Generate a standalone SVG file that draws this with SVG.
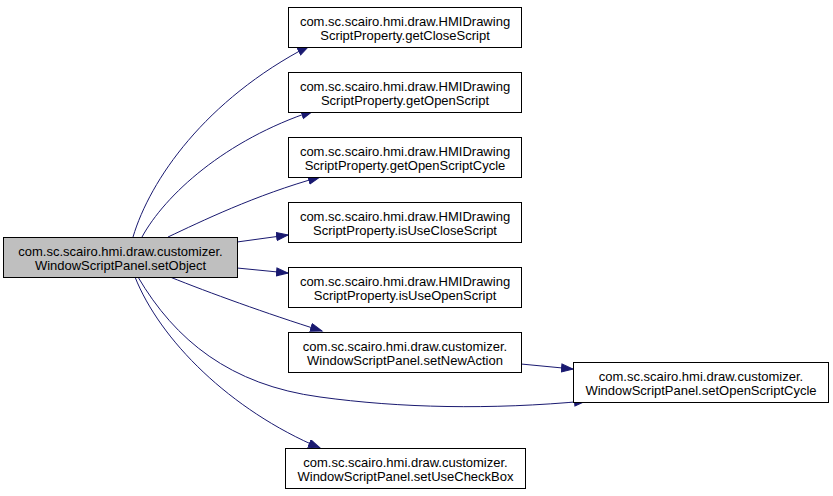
<svg xmlns="http://www.w3.org/2000/svg" width="833" height="496" viewBox="0 0 833 496">
<style>
.n rect{fill:#ffffff;stroke:#000000;stroke-width:1}
.n.cur rect{fill:#bfbfbf}
.n text{font-family:"Liberation Sans",Arial,sans-serif;font-size:13px;fill:#000000;text-anchor:middle}
.e path{fill:none;stroke:#191970;stroke-width:1;marker-end:url(#ah)}
</style>
<defs>
<marker id="ah" markerUnits="userSpaceOnUse" markerWidth="14" markerHeight="10" refX="12" refY="4.5" orient="auto">
<path d="M0.5,0.5 L12,4.5 L0.5,8.5 z" fill="#191970" stroke="#191970" stroke-width="1"/>
</marker>
</defs>
<rect width="833" height="496" fill="#ffffff"/>
<g id="edges" class="e">
<path d="M133,237 C150,180 205,100 309,46"/>
<path d="M142,237 C165,195 225,140 313,111"/>
<path d="M168,237 C200,222 255,195 320,177"/>
<path d="M237,242 L288,235"/>
<path d="M237,268 L288,273"/>
<path d="M170,277 C210,293 265,313 322,331"/>
<path d="M138,277 C175,340 230,385 320,397 C400,408 490,410 586,401"/>
<path d="M135,277 C160,340 230,410 320,448"/>
<path d="M521,364 L573,369"/>
</g>
<g id="setObject" class="n cur">
<rect x="3.5" y="237.5" width="234" height="40"/>
<text x="120.5" y="255.5">com.sc.scairo.hmi.draw.customizer.</text>
<text x="120.5" y="269.5">WindowScriptPanel.setObject</text>
</g>
<g id="getCloseScript" class="n">
<rect x="288.5" y="7.5" width="233" height="40"/>
<text x="405" y="25.5">com.sc.scairo.hmi.draw.HMIDrawing</text>
<text x="405" y="39.5">ScriptProperty.getCloseScript</text>
</g>
<g id="getOpenScript" class="n">
<rect x="288.5" y="72.5" width="233" height="40"/>
<text x="405" y="90.5">com.sc.scairo.hmi.draw.HMIDrawing</text>
<text x="405" y="104.5">ScriptProperty.getOpenScript</text>
</g>
<g id="getOpenScriptCycle" class="n">
<rect x="288.5" y="137.5" width="233" height="40"/>
<text x="405" y="155.5">com.sc.scairo.hmi.draw.HMIDrawing</text>
<text x="405" y="169.5">ScriptProperty.getOpenScriptCycle</text>
</g>
<g id="isUseCloseScript" class="n">
<rect x="288.5" y="202.5" width="233" height="40"/>
<text x="405" y="220.5">com.sc.scairo.hmi.draw.HMIDrawing</text>
<text x="405" y="234.5">ScriptProperty.isUseCloseScript</text>
</g>
<g id="isUseOpenScript" class="n">
<rect x="288.5" y="267.5" width="233" height="40"/>
<text x="405" y="285.5">com.sc.scairo.hmi.draw.HMIDrawing</text>
<text x="405" y="299.5">ScriptProperty.isUseOpenScript</text>
</g>
<g id="setNewAction" class="n">
<rect x="288.5" y="332.5" width="233" height="40"/>
<text x="405" y="350.5">com.sc.scairo.hmi.draw.customizer.</text>
<text x="405" y="364.5">WindowScriptPanel.setNewAction</text>
</g>
<g id="setOpenScriptCycle" class="n">
<rect x="573.5" y="362.5" width="255" height="40"/>
<text x="701" y="380.5">com.sc.scairo.hmi.draw.customizer.</text>
<text x="701" y="394.5">WindowScriptPanel.setOpenScriptCycle</text>
</g>
<g id="setUseCheckBox" class="n">
<rect x="285.5" y="448.5" width="240" height="40"/>
<text x="405.5" y="466.5">com.sc.scairo.hmi.draw.customizer.</text>
<text x="405.5" y="480.5">WindowScriptPanel.setUseCheckBox</text>
</g>
</svg>
